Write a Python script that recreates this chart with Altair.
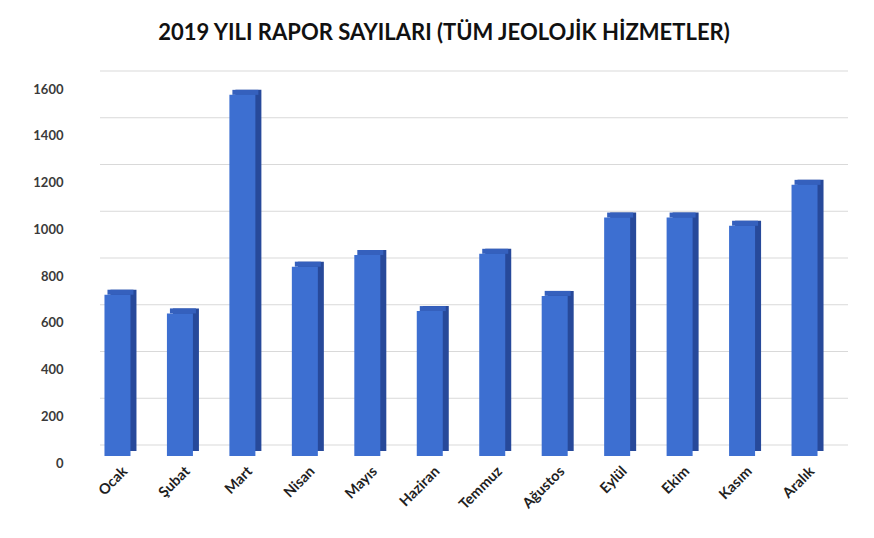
import altair as alt
import pandas as pd

months = ["Ocak", "Şubat", "Mart", "Nisan", "Mayıs", "Haziran",
          "Temmuz", "Ağustos", "Eylül", "Ekim", "Kasım", "Aralık"]
values = [690, 610, 1545, 810, 860, 620, 865, 685, 1020, 1020, 985, 1160]
ticks = [0, 200, 400, 600, 800, 1000, 1200, 1400, 1600]

df = pd.DataFrame({"Ay": months, "Rapor": values})
grid_df = pd.DataFrame({"Rapor": ticks})

FONT = "Lato"
W, H = 782, 374

xenc = alt.X("Ay:N", sort=months,
             scale=alt.Scale(paddingInner=0.52, paddingOuter=0.52),
             axis=alt.Axis(title=None, labelAngle=-45, labelFont=FONT,
                           labelFontSize=14.5, labelFontWeight="bold",
                           labelColor="#1f1f1f", ticks=False, domain=False,
                           labelPadding=8, grid=False))
yscale = alt.Scale(domain=[0, 1600], nice=False)
yaxis = alt.Axis(title=None, values=ticks, format="d", labelFont=FONT,
                 labelFontSize=13, labelFontWeight="bold",
                 labelColor="#3a3a3a", ticks=False, domain=False,
                 grid=False, labelPadding=10, labelOffset=7)
yenc = alt.Y("Rapor:Q", scale=yscale, axis=yaxis)

grid = alt.Chart(grid_df).mark_rule(color="#d9d9d9", strokeWidth=1, yOffset=-11).encode(
    y=yenc, x=alt.value(27), x2=alt.value(775))

side = alt.Chart(df).mark_bar(size=26, color="#27499a", xOffset=3,
                              yOffset=-5, y2Offset=-5).encode(x=xenc, y=yenc)
top = alt.Chart(df).mark_bar(size=26, color="#3560bd", xOffset=0,
                             yOffset=-5, y2Offset=0).encode(
    x=xenc, y=yenc, y2="Rapor:Q")
front = alt.Chart(df).mark_bar(size=26, color="#3d6fd1", xOffset=-3).encode(
    x=xenc, y=yenc)

chart = alt.layer(grid, side, top, front).properties(
    width=W, height=H,
    background="white",
    autosize=alt.AutoSizeParams(type="none"),
    padding={"left": 65, "top": 74, "right": 8, "bottom": 60},
    title=alt.TitleParams("2019 YILI RAPOR SAYILARI (TÜM JEOLOJİK HİZMETLER)",
                          font=FONT, fontSize=22, fontWeight="bold",
                          color="#111111", anchor="middle", offset=26, dx=-20),
).configure_view(strokeWidth=0, stroke="transparent")

chart.save("out.html", embed_options={"renderer": "svg", "actions": False})
